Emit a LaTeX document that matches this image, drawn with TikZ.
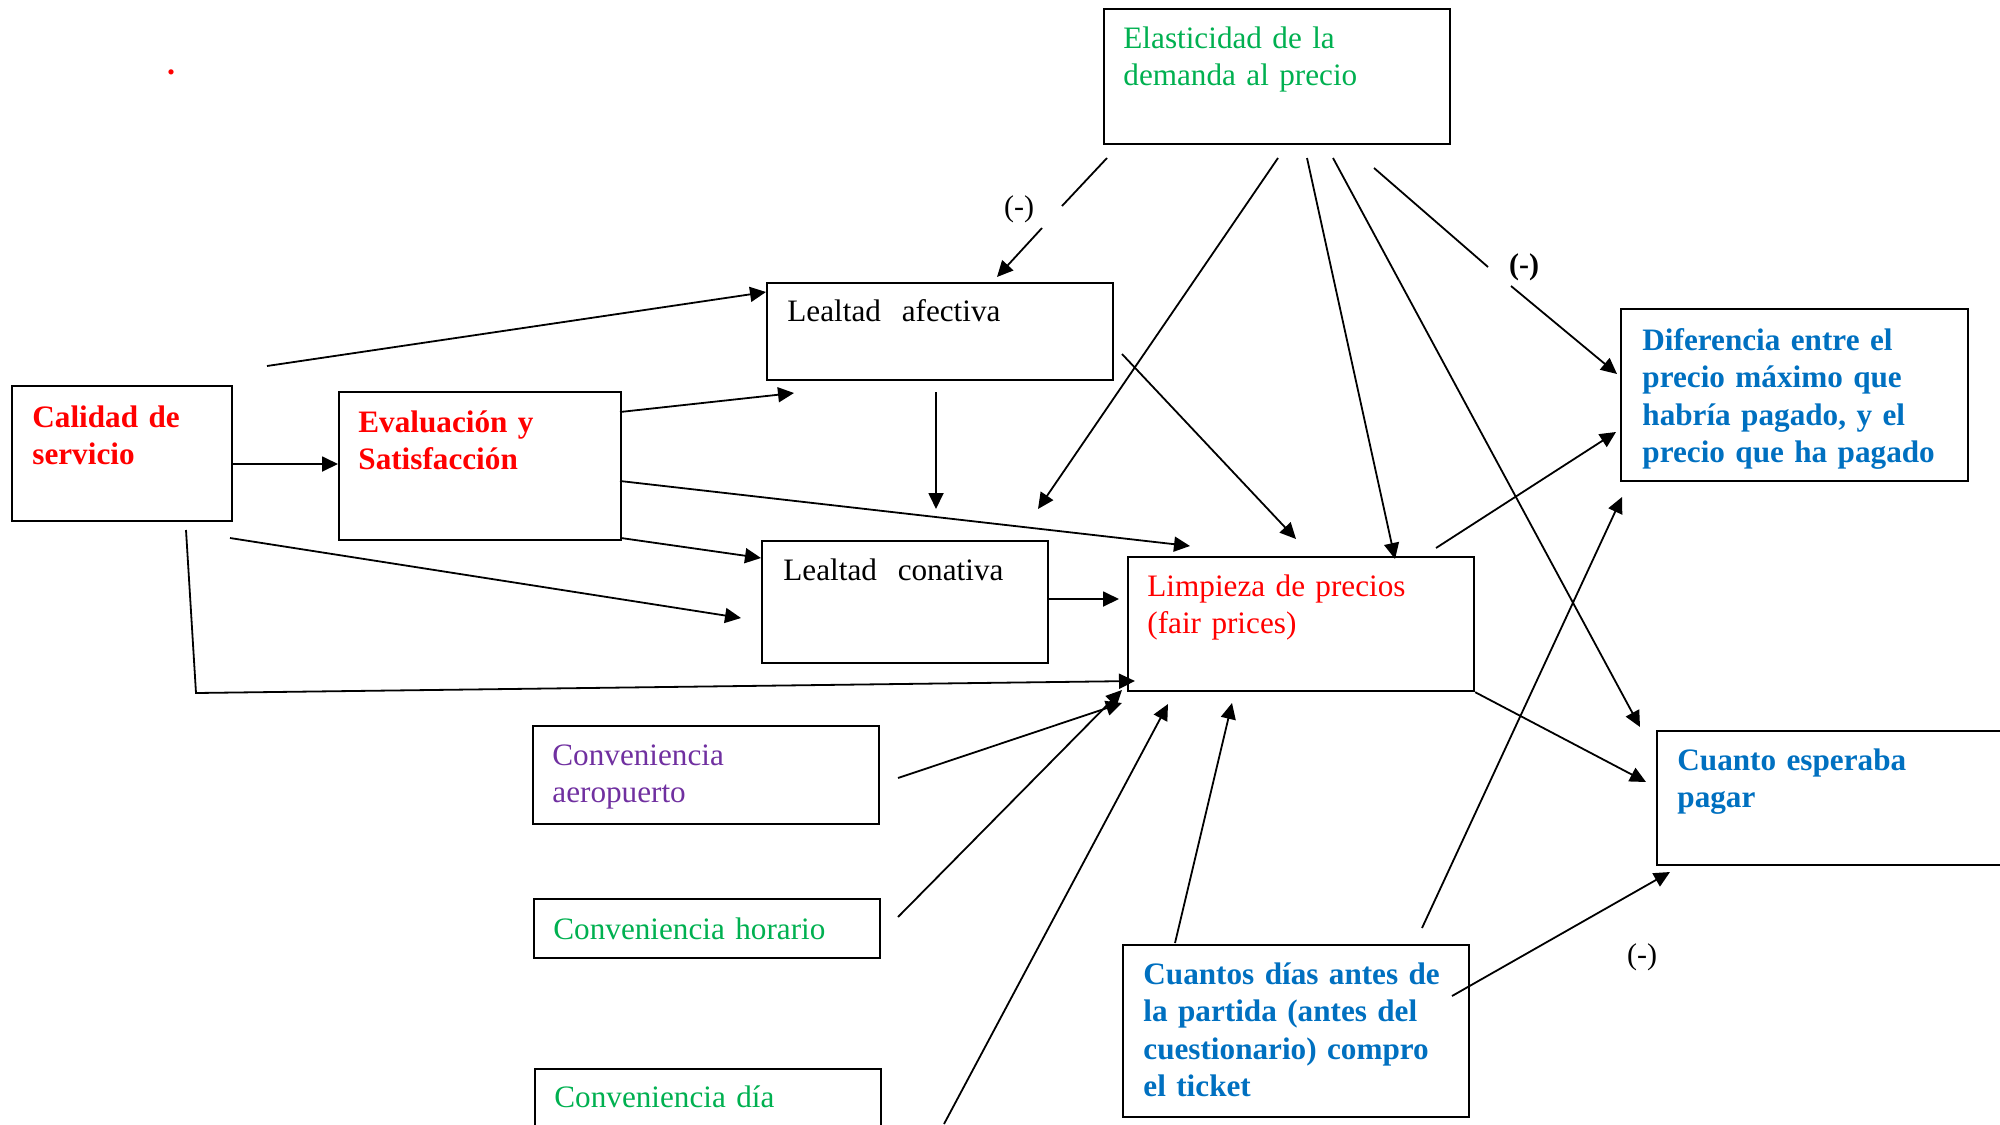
\documentclass[tikz,border=0pt]{standalone}
\usepackage{fontspec}
\setmainfont{Liberation Serif}
\usetikzlibrary{arrows.meta}
\definecolor{cred}{RGB}{255,0,0}
\definecolor{cgreen}{RGB}{0,176,80}
\definecolor{cpurple}{RGB}{112,48,160}
\definecolor{cblue}{RGB}{0,112,192}

% box from top-left (#2,#3) to bottom-right (#4,#5), in picture units
\newcommand\mkbox[5]{%
  \node[box, anchor=north west, minimum width={(#4-#2)*0.5pt},
        minimum height={(#5-#3)*0.5pt}] (#1) at (#2,#3) {};}

\begin{document}
\begin{tikzpicture}[x=0.5pt,y=-0.5pt,
  box/.style={draw, line width=1.1pt, rectangle, inner sep=0pt},
  txt/.style={anchor=base west, inner sep=0pt, text width=180pt, align=left,
              font=\fontsize{15.6pt}{18.75pt}\selectfont},
  txtb/.style={txt, font=\fontsize{15.6pt}{18.75pt}\selectfont\bfseries},
  arr/.style={line width=0.9pt, -{Triangle[length=8pt,width=7.5pt]}},
  seg/.style={line width=0.9pt},
  sign/.style={inner sep=0pt, font=\fontsize{15pt}{18pt}\selectfont}
]
\useasboundingbox (0,0) rectangle (2000,1124);
\clip (0,0) rectangle (2000,1124);

% ---------- boxes ----------
\mkbox{cal}{11}{385}{231}{520}
\mkbox{eva}{338}{391}{620}{539}
\mkbox{ela}{1103}{8}{1449}{143}
\mkbox{afe}{766}{282}{1112}{379}
\mkbox{con}{761}{540}{1047}{662}
\mkbox{lim}{1127}{556}{1473}{690}
\mkbox{dif}{1620}{308}{1967}{480}
\mkbox{esp}{1656}{730}{2012}{864}
\mkbox{dias}{1122}{944}{1468}{1116}
\mkbox{aer}{532}{725}{878}{823}
\mkbox{hor}{533}{898}{879}{957}
\mkbox{dia}{534}{1068}{880}{1140}

% ---------- texts ----------
\node[inner sep=0pt, anchor=base, text=cred,
      font=\fontsize{16pt}{18pt}\selectfont\bfseries] (dot) at (171,74) {.};
\node[txtb, text=cred] (calT) at (32,427) {Calidad de\\servicio};
\node[txtb, text=cred] (evaT) at (358,432) {Evaluación y\\Satisfacción};
\node[txt, text=cgreen] (elaT) at (1123,48) {Elasticidad de la\\demanda al precio};
\node[txt] (afeT) at (787,321) {Lealtad\ \ afectiva};
\node[txt] (conT) at (783,580) {Lealtad\ \ conativa};
\node[txt, text=cred] (limT) at (1147,596) {Limpieza de precios\\(fair prices)};
\node[txtb, text=cblue] (difT) at (1642,350)
  {Diferencia entre el\\precio máximo que\\habría pagado, y el\\precio que ha pagado};
\node[txtb, text=cblue] (espT) at (1677,770) {Cuanto esperaba\\pagar};
\node[txtb, text=cblue] (diasT) at (1143,984)
  {Cuantos días antes de\\la partida (antes del\\cuestionario) compro\\el ticket};
\node[txt, text=cpurple] (aerT) at (552,765) {Conveniencia\\aeropuerto};
\node[txt, text=cgreen] (horT) at (553,939) {Conveniencia horario};
\node[txt, text=cgreen] (diaT) at (554,1107) {Conveniencia día};

\node[sign] (s1) at (1019,209) {(-)};
\node[sign, font=\fontsize{15pt}{18pt}\selectfont\bfseries] (s2) at (1524,267) {(-)};
\node[sign] (s3) at (1642,957) {(-)};

% ---------- connector ends ----------
\coordinate (a1) at (267,366);   \coordinate (b1) at (766,292);
\coordinate (a2) at (233,464);   \coordinate (b2) at (338,464);
\coordinate (a3) at (620,412);   \coordinate (b3) at (794,393);
\coordinate (a4) at (936,392);   \coordinate (b4) at (936,509);
\coordinate (a5) at (620,481);   \coordinate (b5) at (1190,546);
\coordinate (a6) at (621,538);   \coordinate (b6) at (761,558);
\coordinate (a7) at (230,538);   \coordinate (b7) at (741,618);
\coordinate (a8) at (186,530);   \coordinate (m8) at (196,693);
\coordinate (b8) at (1135,681);
\coordinate (a9) at (1047,599);  \coordinate (b9) at (1119,599);
\coordinate (a10) at (1107,158); \coordinate (g10) at (1062,206);
\coordinate (h10) at (1042,228); \coordinate (b10) at (997,277);
\coordinate (a11) at (1278,158); \coordinate (b11) at (1038,509);
\coordinate (a12) at (1122,354); \coordinate (b12) at (1296,539);
\coordinate (a13) at (1307,158); \coordinate (b13) at (1395,559);
\coordinate (a14) at (1333,158); \coordinate (b14) at (1640,727);
\coordinate (a15) at (1374,168); \coordinate (g15) at (1488,267);
\coordinate (h15) at (1511,286); \coordinate (b15) at (1617,374);
\coordinate (a16) at (1436,548); \coordinate (b16) at (1616,432);
\coordinate (b17) at (1646,782);
\coordinate (a18) at (898,778);  \coordinate (b18) at (1122,703);
\coordinate (a19) at (898,917);  \coordinate (b19) at (1122,690);
\coordinate (a20) at (944,1124); \coordinate (b20) at (1168,704);
\coordinate (a21) at (1175,943); \coordinate (b21) at (1232,703);
\coordinate (a22) at (1422,928); \coordinate (b22) at (1622,497);
\coordinate (a23) at (1452,996); \coordinate (b23) at (1670,872);

% ---------- connectors ----------
\draw[arr] (a1) -- (b1);
\draw[arr] (a2) -- (b2);
\draw[arr] (a3) -- (b3);
\draw[arr] (a4) -- (b4);
\draw[arr] (a5) -- (b5);
\draw[arr] (a6) -- (b6);
\draw[arr] (a7) -- (b7);
\draw[arr] (a8) -- (m8) -- (b8);
\draw[arr] (a9) -- (b9);
\draw[seg] (a10) -- (g10);
\draw[arr] (h10) -- (b10);
\draw[arr] (a11) -- (b11);
\draw[arr] (a12) -- (b12);
\draw[arr] (a13) -- (b13);
\draw[arr] (a14) -- (b14);
\draw[seg] (a15) -- (g15);
\draw[arr] (h15) -- (b15);
\draw[arr] (a16) -- (b16);
\draw[arr] (lim.south east) -- (b17);
\draw[arr] (a18) -- (b18);
\draw[arr] (a19) -- (b19);
\draw[arr] (a20) -- (b20);
\draw[arr] (a21) -- (b21);
\draw[arr] (a22) -- (b22);
\draw[arr] (a23) -- (b23);
\end{tikzpicture}
\end{document}
